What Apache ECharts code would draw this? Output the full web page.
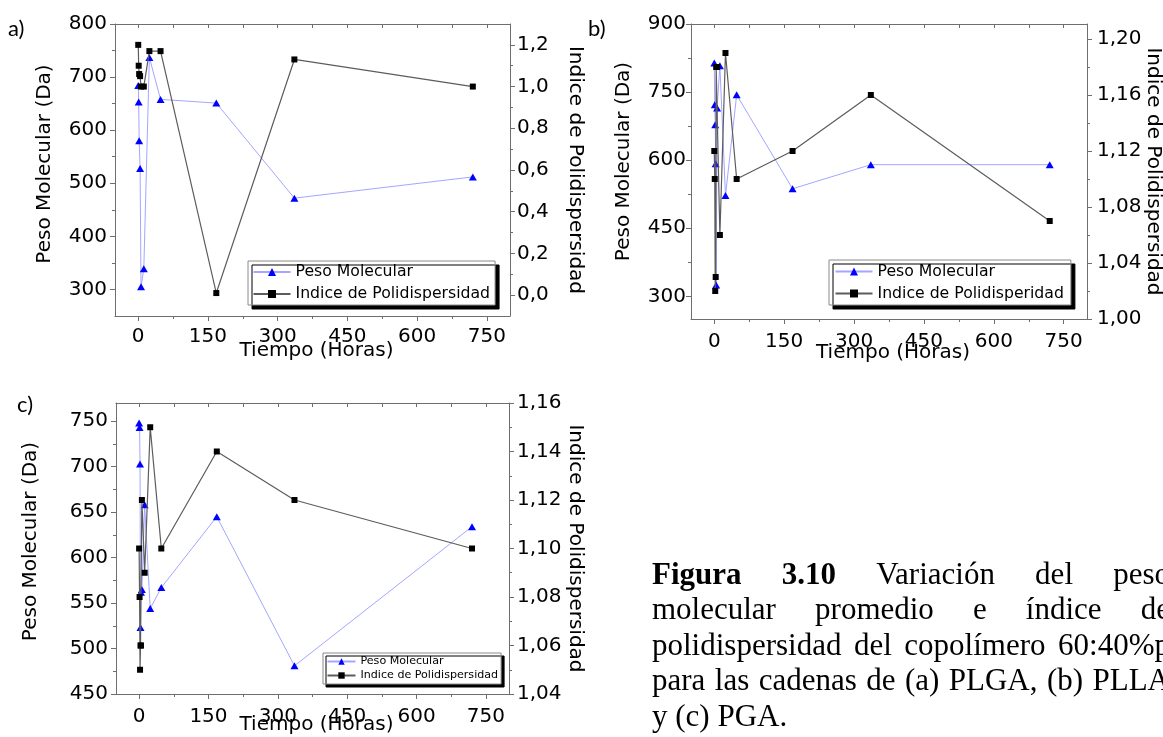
<!DOCTYPE html>
<html>
<head>
<meta charset="utf-8">
<script src="https://cdn.jsdelivr.net/npm/echarts@6.0.0/dist/echarts.min.js"></script>
<style>
html,body{margin:0;padding:0;background:#ffffff;}
#chart{width:1163px;height:737px;}
</style>
</head>
<body>
<div id="chart"></div>
<script>
// ---------------- DATA ----------------
// (a) PLGA
const timeA = [0, 1, 2, 4, 6, 12, 24, 48, 168, 336, 720];
const pesoA = [684, 653, 580, 528, 305, 339, 737, 658, 651, 472, 512];
const pdiA  = [1.20, 1.10, 1.06, 1.05, 1.00, 1.00, 1.17, 1.17, 0.01, 1.13, 1.00];
// (b) PLLA
const timeB = [0, 1, 2, 3, 4, 6, 12, 24, 48, 168, 336, 720];
const pesoB = [814, 722, 678, 592, 325, 715, 808, 522, 744, 537, 590, 590];
const pdiB  = [1.12, 1.10, 1.02, 1.03, 1.18, 1.18, 1.06, 1.19, 1.10, 1.12, 1.16, 1.07];
// (c) PGA
const timeC = [0, 1, 2, 3, 4, 6, 12, 24, 48, 168, 336, 720];
const pesoC = [748, 743, 703, 523, 562, 565, 658, 544, 567, 645, 481, 634];
const pdiC  = [1.10, 1.08, 1.05, 1.06, 1.06, 1.12, 1.09, 1.15, 1.10, 1.14, 1.12, 1.10];

// tick values
const xTicks      = [0, 150, 300, 450, 600, 750];
const xMinorTicks = [75, 225, 375, 525, 675];
const xTopTicks   = [0, 75, 150, 225, 300, 375, 450, 525, 600, 675, 750];

const yTicksA  = [300, 400, 500, 600, 700, 800];
const yMinorA  = [350, 450, 550, 650, 750];
const y2TicksA = [0, 0.2, 0.4, 0.6, 0.8, 1.0, 1.2];
const y2MinorA = [0.1, 0.3, 0.5, 0.7, 0.9, 1.1];

const yTicksB  = [300, 450, 600, 750, 900];
const yMinorB  = [375, 525, 675, 825];
const y2TicksB = [1.00, 1.04, 1.08, 1.12, 1.16, 1.20];
const y2MinorB = [1.02, 1.06, 1.10, 1.14, 1.18];

const yTicksC  = [450, 500, 550, 600, 650, 700, 750];
const yMinorC  = [475, 525, 575, 625, 675, 725];
const y2TicksC = [1.04, 1.06, 1.08, 1.10, 1.12, 1.14, 1.16];
const y2MinorC = [1.05, 1.07, 1.09, 1.11, 1.13, 1.15];

// texts
const xName = 'Tiempo (Horas)';
const yName = 'Peso Molecular (Da)';
const pesoName = 'Peso Molecular';
const pdiNameAC = 'Indice de Polidispersidad';
const pdiNameB = 'Indice de Polidisperidad';
const y2Name = 'Indice de Polidispersidad';
const panelLabels = ['a)', 'b)', 'c)'];
const captionLines = [
  [['Figura', true], ['3.10', true], ['Variación'], ['del'], ['peso']],
  [['molecular'], ['promedio'], ['e'], ['índice'], ['de']],
  [['polidispersidad'], ['del'], ['copolímero'], ['60:40%p']],
  [['para'], ['las'], ['cadenas'], ['de'], ['(a)'], ['PLGA,'], ['(b)'], ['PLLA']],
  [['y'], ['(c)'], ['PGA.']]
];

// ---------------- LAYOUT / STYLE ----------------
const FONT = 'DejaVu Sans';
const AXC = '#6e6e6e';

function fmt(dec) { return function (v) { return Number(v).toFixed(dec).replace('.', ','); }; }

const panels = [
  { grid: {left: 115, top: 24, width: 395, height: 292},
    time: timeA, peso: pesoA, pdi: pdiA, pdiName: pdiNameAC,
    yMin: 250, yMax: 800, yTicks: yTicksA, yMinor: yMinorA, yDec: 0,
    y2Min: -0.1, y2Max: 1.3, y2Ticks: y2TicksA, y2Minor: y2MinorA, y2Dec: 1,
    xLabelMargin: 11, xNameGap: 25, yLabelMargin: 8, y2LabelMargin: 7,
    yNameGap: 60, yNamePad: 12, y2NameGap: 55,
    lg: {left: 248, top: 261, fontSize: 15.7, itemWidth: 37, itemHeight: 10, itemGap: 6, padding: [3, 5, 3, 4.5], shadow: 4}
  },
  { grid: {left: 691, top: 24, width: 396, height: 295},
    time: timeB, peso: pesoB, pdi: pdiB, pdiName: pdiNameB,
    yMin: 250, yMax: 900, yTicks: yTicksB, yMinor: yMinorB, yDec: 0,
    y2Min: 1.0, y2Max: 1.2107, y2Ticks: y2TicksB, y2Minor: y2MinorB, y2Dec: 2,
    xLabelMargin: 13, xNameGap: 24, yLabelMargin: 5, y2LabelMargin: 10,
    yNameGap: 57, yNamePad: 20, y2NameGap: 56,
    lg: {left: 829, top: 260, fontSize: 15.7, itemWidth: 37, itemHeight: 10, itemGap: 6, padding: [3.5, 7, 3.5, 5.5], shadow: 4}
  },
  { grid: {left: 116, top: 403, width: 393, height: 291},
    time: timeC, peso: pesoC, pdi: pdiC, pdiName: pdiNameAC,
    yMin: 450, yMax: 770, yTicks: yTicksC, yMinor: yMinorC, yDec: 0,
    y2Min: 1.04, y2Max: 1.16, y2Ticks: y2TicksC, y2Minor: y2MinorC, y2Dec: 2,
    xLabelMargin: 13, xNameGap: 21, yLabelMargin: 8, y2LabelMargin: 8,
    yNameGap: 75, yNamePad: 14, y2NameGap: 56,
    lg: {left: 323, top: 653, fontSize: 11.1, itemWidth: 28, itemHeight: 8, itemGap: 3, padding: [3, 3, 3, 3.5], shadow: 3}
  }
];

const grids = [], xAxes = [], yAxes = [], series = [], legends = [];
const txt = {fontFamily: FONT, fontSize: 20, color: '#000'};

panels.forEach(function (p, g) {
  grids.push(Object.assign({containLabel: false, outerBoundsMode: 'none'}, p.grid));
  const xb = {gridIndex: g, type: 'value', min: -50, max: 800, splitLine: {show: false}, nameMoveOverlap: false};
  // main bottom x axis
  xAxes.push(Object.assign({}, xb, {
    position: 'bottom',
    axisLine: {show: true, onZero: false, lineStyle: {color: AXC, width: 1}},
    axisTick: {show: true, customValues: xTicks, length: 5, lineStyle: {color: AXC}},
    axisLabel: Object.assign({show: true, customValues: xTicks, margin: p.xLabelMargin}, txt),
    name: xName, nameLocation: 'middle', nameGap: p.xNameGap,
    nameTextStyle: Object.assign({padding: [0, 0, 0, 8]}, txt)
  }));
  // minor bottom ticks
  xAxes.push(Object.assign({}, xb, {
    position: 'bottom',
    axisLine: {show: false, onZero: false},
    axisTick: {show: true, customValues: xMinorTicks, length: 3, lineStyle: {color: AXC}},
    axisLabel: {show: false}
  }));
  // top frame
  xAxes.push(Object.assign({}, xb, {
    position: 'top',
    axisLine: {show: true, onZero: false, lineStyle: {color: AXC, width: 1}},
    axisTick: {show: true, inside: true, customValues: xTopTicks, length: 4, lineStyle: {color: AXC}},
    axisLabel: {show: false}
  }));

  // left y
  yAxes.push({
    gridIndex: g, type: 'value', min: p.yMin, max: p.yMax, position: 'left', splitLine: {show: false},
    nameMoveOverlap: false,
    axisLine: {show: true, onZero: false, lineStyle: {color: AXC, width: 1}},
    axisTick: {show: true, customValues: p.yTicks, length: 5, lineStyle: {color: AXC}},
    axisLabel: Object.assign({customValues: p.yTicks, formatter: fmt(p.yDec), margin: p.yLabelMargin}, txt),
    name: yName, nameLocation: 'middle', nameGap: p.yNameGap,
    nameTextStyle: Object.assign({padding: [0, 0, 0, p.yNamePad]}, txt)
  });
  // right y
  yAxes.push({
    gridIndex: g, type: 'value', min: p.y2Min, max: p.y2Max, position: 'right', splitLine: {show: false},
    nameMoveOverlap: false,
    axisLine: {show: true, onZero: false, lineStyle: {color: AXC, width: 1}},
    axisTick: {show: true, customValues: p.y2Ticks, length: 5, lineStyle: {color: AXC}},
    axisLabel: Object.assign({customValues: p.y2Ticks, formatter: fmt(p.y2Dec), margin: p.y2LabelMargin}, txt),
    name: y2Name, nameLocation: 'middle', nameGap: p.y2NameGap, nameRotate: -90,
    nameTextStyle: txt
  });
  // minor left
  yAxes.push({
    gridIndex: g, type: 'value', min: p.yMin, max: p.yMax, position: 'left', splitLine: {show: false},
    axisLine: {show: false, onZero: false},
    axisTick: {show: true, customValues: p.yMinor, length: 3, lineStyle: {color: AXC}},
    axisLabel: {show: false}
  });
  // minor right
  yAxes.push({
    gridIndex: g, type: 'value', min: p.y2Min, max: p.y2Max, position: 'right', splitLine: {show: false},
    axisLine: {show: false, onZero: false},
    axisTick: {show: true, customValues: p.y2Minor, length: 3, lineStyle: {color: AXC}},
    axisLabel: {show: false}
  });

  series.push({
    type: 'line', name: pesoName, xAxisIndex: 3 * g, yAxisIndex: 4 * g,
    data: p.time.map(function (t, i) { return [t, p.peso[i]]; }),
    symbol: 'triangle', symbolSize: [8, 7],
    lineStyle: {color: '#a4a6ff', width: 1},
    itemStyle: {color: '#0000ff'},
    animation: false, z: 3
  });
  series.push({
    type: 'line', name: p.pdiName, xAxisIndex: 3 * g, yAxisIndex: 4 * g + 1,
    data: p.time.map(function (t, i) { return [t, p.pdi[i]]; }),
    symbol: 'rect', symbolSize: 6,
    lineStyle: {color: '#5c5c5c', width: 1.2},
    itemStyle: {color: '#000000'},
    animation: false, z: 4
  });

  legends.push({
    orient: 'vertical', left: p.lg.left, top: p.lg.top,
    data: [pesoName, p.pdiName],
    itemWidth: p.lg.itemWidth, itemHeight: p.lg.itemHeight, itemGap: p.lg.itemGap,
    padding: p.lg.padding, backgroundColor: '#ffffff', borderColor: '#8a8a8a', borderWidth: 1,
    shadowColor: '#000000', shadowBlur: 0, shadowOffsetX: p.lg.shadow, shadowOffsetY: p.lg.shadow,
    selectedMode: false, z: 10,
    textStyle: {fontFamily: FONT, fontSize: p.lg.fontSize, color: '#000'}
  });
});

// ---------------- caption layout (justified text) ----------------
const measureCtx = document.createElement('canvas').getContext('2d');
const CAP_SIZE = 31;
const CAP_L = 652, CAP_R = 1170;
const capBaselines = [585, 620.5, 656, 691.5, 727];
function capFont(bold) { return (bold ? 'bold ' : '') + CAP_SIZE + 'px "Liberation Serif", "Times New Roman", serif'; }
function tw(s, bold) { measureCtx.font = capFont(bold); return measureCtx.measureText(s).width; }

const graphics = [];
const labelPos = [[8, 29], [588, 29], [17, 405]];
panelLabels.forEach(function (s, i) {
  graphics.push({type: 'text', x: labelPos[i][0], y: labelPos[i][1],
    style: {text: s, fill: '#000', font: '22px Lato, "Open Sans", sans-serif', align: 'left', verticalAlign: 'middle'}});
});

captionLines.forEach(function (words, li) {
  const widths = words.map(function (w) { return tw(w[0], !!w[1]); });
  const total = widths.reduce(function (a, b) { return a + b; }, 0);
  const justify = li < captionLines.length - 1;
  const gap = justify ? (CAP_R - CAP_L - total) / (words.length - 1) : tw(' ', false);
  let x = CAP_L;
  const y = capBaselines[li] - 0.305 * CAP_SIZE;
  words.forEach(function (w, wi) {
    graphics.push({type: 'text', x: x, y: y,
      style: {text: w[0], fill: '#000', font: capFont(!!w[1]), align: 'left', verticalAlign: 'middle'}});
    x += widths[wi] + gap;
  });
});

const chart = echarts.init(document.getElementById('chart'), null, {renderer: 'canvas'});
chart.setOption({
  backgroundColor: '#ffffff',
  animation: false,
  grid: grids,
  xAxis: xAxes,
  yAxis: yAxes,
  legend: legends,
  series: series,
  graphic: graphics
});
</script>
</body>
</html>
